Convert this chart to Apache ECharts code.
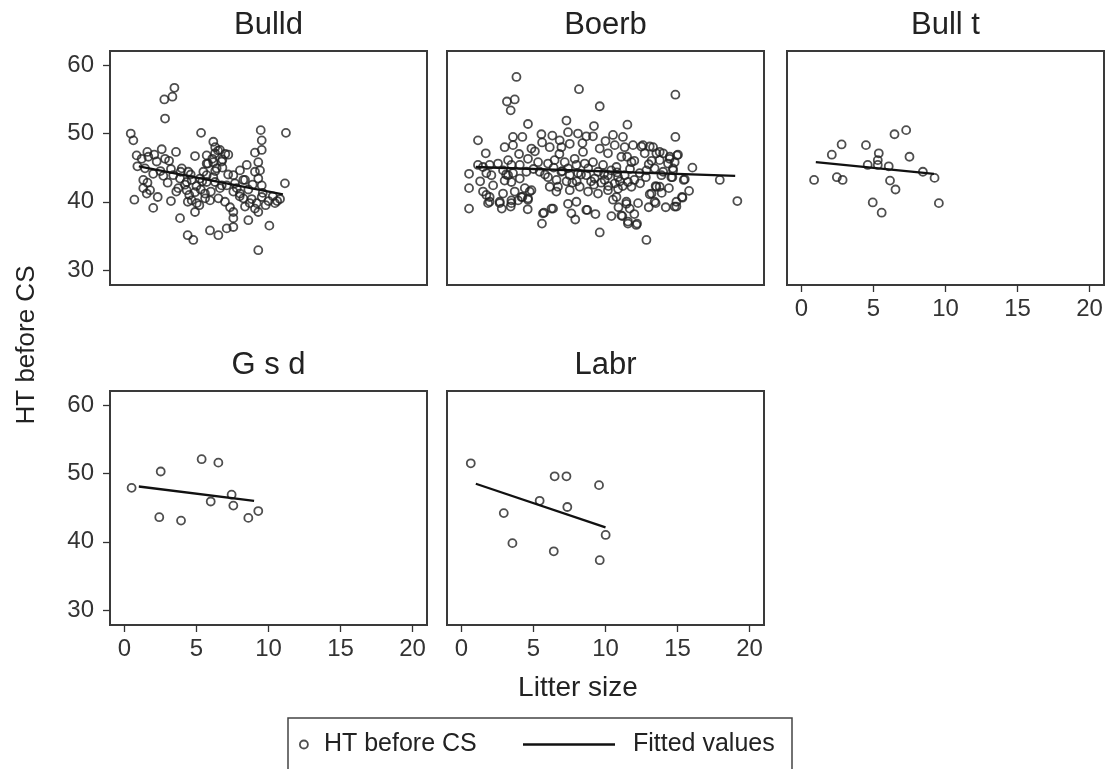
<!DOCTYPE html>
<html>
<head>
<meta charset="utf-8">
<title>HT before CS vs Litter size</title>
<script src="https://cdn.jsdelivr.net/npm/echarts@6.0.0/dist/echarts.min.js"></script>
<style>
  html, body { margin: 0; padding: 0; background: #fff; }
  #main { width: 1107px; height: 769px; }
</style>
</head>
<body>
<div id="main"></div>
<script>
// panel titles and tick labels
const panelNames = ["Bulld", "Boerb", "Bull t", "G s d", "Labr"];
const xTicks = [0, 5, 10, 15, 20];
const yTicks = [30, 40, 50, 60];

// HT before CS vs litter size, one array per breed
const bulldPts = [
  [3.47, 56.7], [3.33, 55.4], [2.77, 55.0], [2.82, 52.2], [0.44, 50.0], [0.62, 49.0], [0.85, 46.8],
  [1.59, 47.3], [2.07, 46.9], [2.59, 47.7], [2.82, 46.3], [3.58, 47.3], [1.66, 46.6], [2.24, 45.9],
  [1.43, 44.9], [3.23, 44.8], [4.9, 46.7], [5.32, 50.1], [1.31, 43.2], [1.31, 42.0], [1.78, 41.7],
  [1.55, 41.2], [2.31, 40.7], [0.69, 40.3], [2.0, 39.1], [3.23, 40.1], [3.74, 42.0],
  [3.86, 43.4], [4.32, 42.9], [4.67, 43.2], [4.32, 41.7], [4.9, 41.4], [4.67, 40.2], [5.02, 39.8],
  [4.9, 38.5], [3.86, 37.6], [4.39, 35.1], [4.78, 34.4], [3.39, 43.9], [3.98, 44.9], [4.43, 44.4],
  [9.46, 50.5], [9.53, 49.0], [9.53, 47.6], [11.21, 50.1], [6.17, 48.8],
  [5.71, 46.8], [6.29, 47.1], [6.63, 47.6], [7.21, 46.9], [6.17, 45.8], [6.75, 45.9], [6.4, 44.9],
  [5.71, 45.6], [5.48, 44.4],
  [9.06, 47.2], [9.29, 45.8], [9.06, 44.4], [9.41, 44.6], [9.29, 43.4], [9.53, 42.4], [8.49, 45.4],
  [8.02, 44.6], [7.56, 43.9], [7.67, 42.7], [8.25, 43.2], [11.14, 42.7], [10.45, 39.8], [10.8, 40.4],
  [10.6, 40.1], [10.06, 36.5], [9.29, 32.9], [8.6, 37.3],
  [8.37, 39.3], [8.83, 40.4], [9.06, 39.0], [9.29, 38.5], [9.18, 39.8], [9.53, 40.7], [7.56, 37.6],
  [7.56, 36.3], [7.1, 36.1], [6.52, 35.1], [5.94, 35.8],
  [7.56, 38.5], [7.33, 39.2], [6.98, 40.0], [6.52, 40.5], [5.94, 40.2], [5.59, 41.2], [6.63, 42.0],
  [7.1, 42.4], [7.56, 41.5], [8.02, 41.2], [8.25, 40.5],
  [5.25, 43.4], [5.71, 42.9], [6.29, 42.9], [6.75, 42.4], [5.71, 43.9], [6.17, 43.6], [8.37, 43.2],
  [4.2, 42.5], [4.5, 41.0], [5.0, 42.3], [5.3, 41.8], [5.6, 40.5], [5.2, 39.5], [4.4, 40.0],
  [3.6, 41.5], [3.0, 42.8], [2.7, 43.8], [3.9, 44.4], [4.6, 44.0], [5.4, 43.0], [6.0, 41.5],
  [6.3, 44.5], [5.8, 45.6], [6.8, 45.0], [7.2, 44.0], [7.8, 42.0], [8.0, 40.8], [8.6, 41.8],
  [8.9, 42.5], [9.6, 41.3], [9.8, 39.5], [10.0, 40.1], [10.3, 40.8], [8.7, 39.8], [3.1, 46.0],
  [2.0, 44.1], [1.6, 42.8], [0.9, 45.2], [1.2, 46.3], [2.5, 44.5], [6.5, 47.5], [6.8, 46.2],
  [6.1, 46.3], [7.0, 47.0], [6.3, 48.0]
];

const boerbPts = [
  [3.82, 58.3], [8.16, 56.5], [14.85, 55.7], [3.16, 54.7], [3.7, 55.0], [3.42, 53.4], [9.6, 54.0],
  [7.29, 51.9], [4.62, 51.4], [11.52, 51.3], [1.15, 49.0], [14.85, 49.5], [0.53, 44.1], [0.53, 42.0],
  [0.53, 39.0], [5.59, 36.8], [9.6, 35.5], [12.84, 34.4], [12.19, 36.8], [19.15, 40.1], [17.93, 43.2],
  [16.03, 45.0], [15.31, 40.7], [14.92, 39.3], [14.18, 39.2], [13.48, 39.8], [13.48, 42.3], [13.07, 41.1],
  [15.5, 43.3], [14.96, 46.8], [14.45, 46.3], [13.76, 47.3], [13.07, 48.1], [12.49, 48.1], [14.68, 44.9],
  [14.64, 43.6], [8.67, 38.8], [7.63, 38.3], [6.36, 39.0], [5.73, 38.4], [10.41, 37.9], [11.17, 37.9],
  [11.56, 36.8], [11.45, 39.7], [12.26, 39.8], [11.68, 39.0], [10.52, 40.3], [10.76, 40.7],
  [1.5, 41.5], [1.96, 40.7], [1.85, 39.8], [2.66, 39.8], [3.42, 39.3], [3.47, 39.8], [3.93, 40.2],
  [4.62, 40.3], [4.74, 41.5], [4.23, 40.7],
  [1.69, 47.1], [3.58, 49.5], [4.23, 49.5], [3.0, 48.0], [3.58, 48.3], [4.86, 47.8], [5.55, 49.9],
  [6.31, 49.7], [6.13, 48.0],
  [1.15, 45.4], [1.5, 45.1], [1.96, 45.4], [2.54, 45.6], [3.24, 46.1], [3.47, 45.4], [2.89, 44.6],
  [3.24, 43.9], [3.58, 44.2], [4.05, 45.4], [4.62, 46.3], [4.51, 44.4], [4.05, 43.4], [3.47, 42.9],
  [3.0, 43.1], [2.08, 43.9], [1.73, 44.2],
  [1.73, 41.0], [1.96, 40.0], [2.66, 40.0], [2.89, 41.2], [3.47, 40.2], [3.7, 41.5], [4.16, 40.7],
  [4.62, 40.5], [4.86, 41.7],
  [5.32, 45.8], [5.43, 44.4], [6.01, 45.6], [6.47, 46.1], [6.01, 43.6], [6.13, 42.2], [6.59, 41.5],
  [6.25, 39.0], [5.66, 38.3],
  [7.4, 50.2], [8.09, 50.0], [8.67, 49.6], [9.2, 51.1], [9.13, 49.6],
  [10.52, 49.8], [11.21, 49.5], [10.64, 48.3], [11.33, 48.0], [11.91, 48.3], [12.6, 48.3], [13.3, 48.0],
  [12.72, 47.1], [13.53, 47.1],
  [6.82, 49.0], [6.94, 48.0], [7.52, 48.5], [8.44, 47.3], [7.86, 46.3], [7.17, 45.8],
  [10.17, 47.1], [11.1, 46.6], [11.8, 45.8], [10.76, 45.1], [9.83, 45.4], [9.13, 45.8], [8.56, 45.6],
  [7.98, 45.4], [7.4, 44.9],
  [9.48, 44.4], [10.17, 43.9], [10.87, 43.6], [11.33, 43.9], [11.56, 42.9], [10.64, 42.7], [9.94, 43.2],
  [9.25, 43.4], [8.67, 43.9], [8.09, 44.2], [7.52, 43.9], [6.94, 44.4], [12.37, 44.2], [12.84, 44.6],
  [13.41, 44.9], [13.88, 43.9],
  [6.7, 42.2], [7.52, 41.7], [8.21, 42.2], [8.79, 41.5], [9.48, 41.2], [10.17, 41.7], [10.87, 41.9],
  [11.8, 42.2], [13.19, 41.2], [13.53, 42.2], [13.41, 40.0],
  [7.4, 39.7], [7.98, 40.0], [8.74, 38.8], [11.45, 40.0], [11.1, 38.0], [11.56, 37.1], [12.14, 36.6],
  [15.03, 46.9], [14.46, 46.6], [14.0, 47.1], [13.76, 46.1], [14.34, 45.6], [14.8, 45.8], [14.69, 44.6],
  [14.0, 44.4], [14.57, 43.6], [15.43, 43.2], [15.34, 40.6], [14.8, 39.3], [14.92, 40.0], [13.76, 42.2],
  [5.0, 44.8], [5.8, 44.0], [6.4, 45.0], [6.6, 43.2], [7.0, 44.5], [7.3, 43.0], [7.7, 42.8], [8.0, 43.0],
  [8.3, 44.0], [8.8, 44.9], [9.0, 43.0], [9.2, 42.5], [9.7, 42.8], [9.9, 44.1], [10.2, 42.3], [10.4, 44.6],
  [10.8, 44.3], [11.0, 43.0], [11.2, 42.3], [11.7, 44.8], [12.0, 43.2], [12.4, 42.7], [12.8, 43.6],
  [13.0, 45.5], [13.2, 46.0], [4.4, 42.0], [4.0, 47.0], [5.1, 47.4], [5.6, 48.7], [6.8, 47.0], [8.4, 48.6],
  [9.6, 47.8], [10.0, 48.9], [11.5, 46.6], [12.0, 46.0], [2.2, 42.4], [2.8, 39.0], [4.6, 38.9], [3.1, 44.0],
  [1.3, 43.0], [7.9, 37.4], [9.3, 38.2], [10.9, 39.2], [12.0, 38.2], [13.0, 39.2], [13.9, 41.3], [14.4, 42.0],
  [15.8, 41.6]
];

const bulltPts = [
  [0.88, 43.2], [2.11, 46.9], [2.79, 48.4], [2.46, 43.6], [2.86, 43.2], [4.48, 48.3], [4.6, 45.4],
  [5.37, 47.1], [5.3, 46.1], [5.3, 45.4], [6.06, 45.2], [4.95, 39.9], [5.57, 38.4], [6.15, 43.1],
  [6.53, 41.8], [6.46, 49.9], [7.27, 50.5], [7.5, 46.6], [8.43, 44.4], [9.24, 43.5], [9.54, 39.8]
];

const gsdPts = [
  [0.5, 47.9], [2.52, 50.3], [2.42, 43.6], [3.93, 43.1], [5.36, 52.1], [6.52, 51.6], [5.99, 45.9],
  [7.44, 46.9], [7.56, 45.3], [8.6, 43.5], [9.29, 44.5]
];

const labrPts = [
  [0.65, 51.5], [2.94, 44.2], [3.54, 39.8], [5.43, 46.0], [6.47, 49.6], [7.29, 49.6], [7.35, 45.1],
  [6.41, 38.6], [9.55, 48.3], [9.6, 37.3], [10.01, 41.0]
];

// fitted values, start and end of each line
const fitBulld = [[1.0, 45.2], [11.0, 41.1]];
const fitBoerb = [[1.0, 45.1], [19.0, 43.8]];
const fitBullt = [[1.0, 45.8], [9.2, 44.1]];
const fitGsd = [[1.0, 48.1], [9.0, 46.0]];
const fitLabr = [[1.0, 48.5], [10.0, 42.1]];

const allPts = [bulldPts, boerbPts, bulltPts, gsdPts, labrPts];
const allFits = [fitBulld, fitBoerb, fitBullt, fitGsd, fitLabr];

// layout of the panels
const boxes = [
  { left: 110, top: 51 },
  { left: 447, top: 51 },
  { left: 787, top: 51 },
  { left: 110, top: 391 },
  { left: 447, top: 391 }
];
const boxW = 317;
const boxH = 234;
const showX = [false, false, true, true, true];
const showY = [true, false, false, true, false];

const font = "Liberation Sans, Arial, Helvetica, sans-serif";
const ink = "#222";
const frame = "#3a3a3a";

let myChart = echarts.init(document.getElementById("main"), null, { renderer: "canvas" });

let grids = [], xAxes = [], yAxes = [], series = [], titles = [];
boxes.forEach((b, i) => {
  grids.push({
    left: b.left,
    top: b.top,
    width: boxW,
    height: boxH,
    show: true,
    borderColor: frame,
    borderWidth: 2,
    outerBoundsMode: "none"
  });
  xAxes.push({
    type: "value",
    gridIndex: i,
    min: -1,
    max: 21,
    splitLine: { show: false },
    axisLine: { show: true, onZero: false, lineStyle: { color: frame, width: 2 } },
    axisTick: {
      show: showX[i],
      length: 7,
      customValues: xTicks,
      lineStyle: { color: "#333", width: 1.3 }
    },
    axisLabel: {
      show: showX[i],
      customValues: xTicks,
      margin: 12,
      fontSize: 24,
      color: "#333",
      fontFamily: font
    }
  });
  yAxes.push({
    type: "value",
    gridIndex: i,
    min: 27.8,
    max: 62.1,
    splitLine: { show: false },
    axisLine: { show: true, onZero: false, lineStyle: { color: frame, width: 2 } },
    axisTick: {
      show: showY[i],
      length: 7,
      customValues: yTicks,
      lineStyle: { color: "#333", width: 1.3 }
    },
    axisLabel: {
      show: showY[i],
      customValues: yTicks,
      margin: 16,
      fontSize: 24,
      color: "#333",
      fontFamily: font
    }
  });
  titles.push({
    text: panelNames[i],
    left: b.left + boxW / 2,
    top: b.top - 41,
    textAlign: "center",
    padding: 0,
    textStyle: { fontSize: 31, fontWeight: "normal", color: ink, fontFamily: font }
  });
  series.push({
    name: "HT before CS",
    type: "scatter",
    xAxisIndex: i,
    yAxisIndex: i,
    data: allPts[i],
    symbol: "circle",
    symbolSize: 8,
    itemStyle: { color: "rgba(0,0,0,0)", borderColor: "#222", borderWidth: 1.8 },
    emphasis: { disabled: true }
  });
  series.push({
    name: "Fitted values",
    type: "line",
    xAxisIndex: i,
    yAxisIndex: i,
    data: allFits[i],
    showSymbol: false,
    symbol: "none",
    itemStyle: { color: "#111" },
    lineStyle: { color: "#111", width: 2.3 },
    emphasis: { disabled: true },
    z: 3
  });
});

let option = {
  backgroundColor: "#fff",
  animation: false,
  textStyle: { fontFamily: font },
  title: titles,
  grid: grids,
  xAxis: xAxes,
  yAxis: yAxes,
  legend: [
    {
      data: [{
        name: "HT before CS",
        icon: "circle",
        itemStyle: { color: "rgba(0,0,0,0)", borderColor: "#222", borderWidth: 1.8 }
      }],
      left: 299,
      top: 732,
      padding: 0,
      itemWidth: 8,
      itemHeight: 8,
      selectedMode: false,
      textStyle: { fontSize: 25, color: ink, fontFamily: font, padding: [0, 0, 0, 11] }
    },
    {
      data: [{
        name: "Fitted values",
        icon: "rect",
        itemStyle: { color: "#111", borderWidth: 0 }
      }],
      left: 523,
      top: 732,
      padding: 0,
      itemWidth: 92,
      itemHeight: 2.5,
      selectedMode: false,
      textStyle: { fontSize: 25, color: ink, fontFamily: font, padding: [0, 0, 0, 13] }
    }
  ],
  graphic: [
    {
      type: "text",
      x: 27,
      y: 345,
      rotation: Math.PI / 2,
      style: { text: "HT before CS", fontSize: 26, fill: ink, fontFamily: font, align: "center", verticalAlign: "middle" }
    },
    {
      type: "text",
      x: 578,
      y: 688,
      style: { text: "Litter size", fontSize: 28, fill: ink, fontFamily: font, align: "center", verticalAlign: "middle" }
    },
    {
      type: "rect",
      shape: { x: 288, y: 718, width: 504, height: 80 },
      style: { fill: "none", stroke: "#444", lineWidth: 1.5 }
    }
  ],
  series: series
};

myChart.setOption(option);
</script>
</body>
</html>
